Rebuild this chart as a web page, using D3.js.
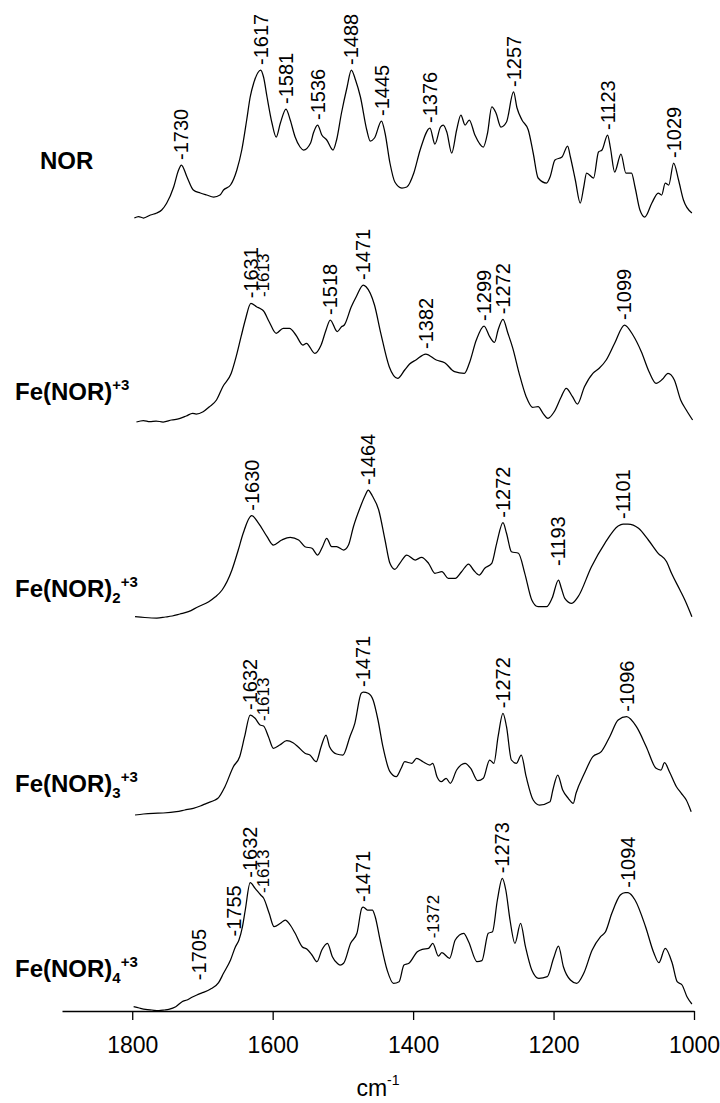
<!DOCTYPE html>
<html>
<head>
<meta charset="utf-8">
<script src="https://cdn.jsdelivr.net/npm/d3@7"></script>
<style>
  html, body { margin: 0; padding: 0; background: #fff; }
  svg { display: block; }
  text { font-family: "Liberation Sans", Arial, Helvetica, sans-serif; fill: #000; }
</style>
</head>
<body>
<svg id="chart" width="720" height="1103"></svg>
<script>
// Raman spectra of norfloxacin (NOR) and its Fe(III) complexes.
// Each series: [wavenumber (cm-1), relative intensity (a.u.)].

const norSpectrum = [
  [1797,2],[1791,3.5],[1784,2],[1774,5],[1765,7],[1758,10],[1751,16.7],[1741,33],[1734,50],[1730,55],
  [1722,43],[1713,30],[1703,27],[1694,25],[1684,23],[1675,25],[1670,30],[1660,35],[1651,50],[1644,70],
  [1637,100],[1632,123],[1627,137],[1617,150],[1613,143],[1608,123],[1601,97],[1595,83],[1589,97],[1581,111],
  [1575,100],[1568,83],[1561,73],[1556,70],[1546,77],[1542,87],[1536,95],[1530,85],[1523,80],[1514,70],
  [1509,80],[1502,107],[1494,133],[1488,150],[1482,140],[1475,123],[1466,90],[1461,79],[1455,82],[1445,99],
  [1440,87],[1433,57],[1426,38],[1416,32],[1409,33],[1399,47],[1390,70],[1376,92],[1369,76],[1361,93],
  [1357,95],[1352,88],[1345,67],[1338,90],[1332,105],[1326,95],[1320,100],[1312,85],[1300,73],[1294,87],
  [1288,113],[1282,107],[1275,93],[1267,98],[1257,128],[1252,112],[1245,100],[1236,90],[1229,67],[1222,42],
  [1210,37],[1205,43],[1198,60],[1188,63],[1180,74],[1176,63],[1169,40],[1162,17],[1157,33],[1153,47],
  [1143,42],[1136,68],[1131,70],[1123,85],[1119,72],[1113,48],[1104,66],[1097,47],[1089,47],[1084,33],
  [1077,10],[1070,3],[1060,17],[1051,27],[1046,25],[1041,37],[1036,35],[1029,57],[1022,40],[1015,20],[1003,7]
];

const fe1Spectrum = [
  [1794,0],[1784,1.5],[1775,0.3],[1766,1],[1756,0],[1744,2],[1733,3.3],[1723,6],[1714,8.7],[1709,8],
  [1699,10.3],[1690,15.3],[1680,22],[1671,35.3],[1659,48.7],[1652,65.3],[1645,85.3],[1639,102],[1631,118.7],[1623,115.3],
  [1616,112.7],[1613,111],[1605,100.3],[1595,88.7],[1585,93.7],[1576,93.7],[1567,87],[1557,77],[1552,78.7],[1540,68.7],
  [1531,77],[1524,92],[1518,102],[1508,90.3],[1502,95.3],[1498,97],[1488,115.3],[1481,125.3],[1471,137],[1467,135.3],
  [1455,117],[1446,88.7],[1434,55.3],[1422,43.7],[1412,52],[1405,58],[1396,62],[1382,68],[1367,62],[1355,59.3],
  [1341,50.3],[1327,48.7],[1320,58.7],[1310,82],[1299,96],[1291,85.3],[1284,79.7],[1279,92],[1272,102.7],[1265,88.7],
  [1258,73.7],[1249,48.7],[1239,25.3],[1230,14.7],[1222,15.3],[1215,8.7],[1208,3.7],[1199,10.3],[1189,25.3],[1182,33.7],
  [1173,25.3],[1166,18],[1156,35.3],[1144,48.7],[1135,53.7],[1125,62],[1113,78.7],[1099,97],[1087,87],[1075,70.3],
  [1064,50.3],[1054,38.7],[1045,42.7],[1037,48.7],[1028,42],[1019,22],[1011,12],[1002,2]
];

const fe2Spectrum = [
  [1796,1.3],[1782,0.5],[1765,0],[1753,1],[1743,2],[1732,4],[1720,6.3],[1706,11.3],[1691,16.3],[1682,21],
  [1672,28],[1658,48],[1649,68],[1642,84.7],[1630,102.3],[1620,94.7],[1608,81.3],[1599,73],[1587,78],[1575,80.7],
  [1563,78],[1554,71.3],[1544,69.7],[1536,63],[1529,71.3],[1523,79.7],[1516,71.3],[1509,71.3],[1499,68],[1492,73],
  [1485,91.3],[1475,111.3],[1468,123],[1464,128],[1458,122],[1449,108],[1440,78],[1433,54.7],[1426,48.7],[1419,54.7],
  [1409,63],[1397,58],[1388,60.7],[1378,54.7],[1369,44.7],[1359,46.3],[1350,39.7],[1340,39.7],[1331,46.3],[1321,54],
  [1314,48],[1306,43],[1298,49.7],[1288,54.7],[1281,74.7],[1272,95.3],[1267,84.7],[1260,66.3],[1250,64.7],[1241,44.7],
  [1231,18],[1222,11.3],[1210,11.3],[1202,20],[1193,38],[1189,30],[1184,19.7],[1174,14.7],[1165,21.3],[1146,51.3],
  [1127,74.7],[1108,92],[1101,94],[1094,94],[1079,89.7],[1065,78],[1051,64.7],[1039,56.3],[1032,44.7],[1020,28],
  [1013,18],[1003,1.3]
];

const fe3Spectrum = [
  [1796,0],[1784,1],[1770,1.7],[1756,2],[1737,3.3],[1725,5],[1713,6.7],[1703,9],[1694,11.7],[1682,15],
  [1678,16.7],[1668,28.3],[1656,48.3],[1647,58.3],[1640,78.3],[1632,100],[1625,96.7],[1618,90],[1613,89],[1606,78.3],
  [1599,66.7],[1590,70],[1580,74.3],[1571,72.3],[1564,68.3],[1554,61.7],[1547,60],[1538,53.3],[1531,68.3],[1524,80],
  [1519,68.3],[1509,61],[1500,60],[1490,78.3],[1483,91.7],[1474,121.7],[1471,123],[1464,121.7],[1457,115],[1450,95],
  [1443,68.3],[1433,43.3],[1424,38.3],[1417,46.7],[1412,53.3],[1402,51.7],[1395,56.7],[1386,53.3],[1376,50],[1372,51.7],
  [1366,38.3],[1360,33.3],[1353,36.7],[1347,31.7],[1338,45],[1326,51.7],[1318,46.7],[1308,34.3],[1300,36.7],[1291,55],
  [1285,51.7],[1279,78.3],[1272,101.7],[1267,88.3],[1260,55],[1253,51.7],[1246,60],[1239,38.3],[1229,15],[1220,10],
  [1205,13.3],[1201,25],[1194,40],[1187,25],[1179,16.7],[1172,11.7],[1168,21.7],[1156,41.7],[1144,58.3],[1132,63.3],
  [1120,78.3],[1108,95],[1096,98.3],[1082,88.3],[1068,68.3],[1054,46.7],[1047,45],[1042,52.3],[1035,43.3],[1025,28.3],
  [1018,21.7],[1011,15],[1004,3.3]
];

const fe4Spectrum = [
  [1798,4.3],[1790,3],[1781,1.7],[1772,1],[1762,0.3],[1754,1],[1748,1.7],[1738,4.3],[1729,9.3],[1722,11],
  [1715,13.7],[1708,16],[1700,18.3],[1689,21.7],[1677,28.3],[1670,37.7],[1660,51],[1653,64.3],[1648,71],[1643,84.3],
  [1639,101],[1632,128.3],[1625,122.7],[1617,116],[1613,113],[1605,97.7],[1598,84.3],[1589,87.7],[1582,91],[1575,86],
  [1568,77.7],[1558,64.3],[1551,61.7],[1544,56],[1537,49.3],[1530,61],[1522,67.7],[1515,54.3],[1508,47.7],[1504,46],
  [1499,47.7],[1489,67.7],[1480,77.7],[1473,103],[1471,104],[1465,101],[1458,101],[1454,94.3],[1447,71],[1437,41],
  [1428,27.7],[1420,29.3],[1413,46],[1406,47.7],[1394,59.3],[1387,61.7],[1378,62.7],[1372,67.7],[1364,55],[1359,58.3],
  [1348,52.7],[1340,71],[1328,77.7],[1321,69.3],[1309,49.3],[1302,50.3],[1293,77.7],[1287,79.3],[1280,111],[1273,132.7],
  [1268,121],[1262,91],[1255,67.7],[1247,87.7],[1240,64.3],[1231,41],[1221,32.7],[1209,34.3],[1200,52.7],[1193,65],
  [1186,44.3],[1176,31],[1167,27.7],[1157,37.7],[1145,61],[1133,74.3],[1126,79.3],[1117,97.7],[1105,116],[1098,118.5],
  [1094,118.3],[1084,111],[1069,84.3],[1057,57.7],[1050,48.3],[1041,62.7],[1031,47.7],[1024,29.3],[1017,26],[1010,14.3],
  [1003,7]
];

// Vertical offset of each trace in the stacked plot (a.u.)
const stackOffsets = [791, 589, 393, 196, 0];

// Sample labels: base name, ligand count subscript, charge superscript
const sampleNames = ["NOR", "Fe(NOR)", "Fe(NOR)", "Fe(NOR)", "Fe(NOR)"];
const ligandCounts = ["", "", "2", "3", "4"];
const sampleCharges = ["", "+3", "+3", "+3", "+3"];

// Assigned bands per trace (position in cm-1, printed text)
const norBands = [[1730,"1730"],[1617,"1617"],[1581,"1581"],[1536,"1536"],[1488,"1488"],[1445,"1445"],[1376,"1376"],[1257,"1257"],[1123,"1123"],[1029,"1029"]];
const fe1Bands = [[1631,"1631"],[1613,"1613"],[1518,"1518"],[1471,"1471"],[1382,"1382"],[1299,"1299"],[1272,"1272"],[1099,"1099"]];
const fe2Bands = [[1630,"1630"],[1464,"1464"],[1272,"1272"],[1193,"1193"],[1101,"1101"]];
const fe3Bands = [[1632,"1632"],[1613,"1613"],[1471,"1471"],[1272,"1272"],[1096,"1096"]];
const fe4Bands = [[1705,"1705"],[1655,"1755"],[1632,"1632"],[1613,"1613"],[1471,"1471"],[1372,"1372"],[1273,"1273"],[1094,"1094"]];

// Minor (shoulder) bands printed in a smaller type
const minorBands = [["fe1",1613],["fe3",1613],["fe4",1613],["fe4",1372]];
// Bands whose label sits further above the trace
const liftedBands = [["fe1",1613],["fe2",1193],["fe4",1705],["fe4",1655]];

const tickValues = [1800, 1600, 1400, 1200, 1000];

const series = [
  { key: "nor", data: norSpectrum, bands: norBands },
  { key: "fe1", data: fe1Spectrum, bands: fe1Bands },
  { key: "fe2", data: fe2Spectrum, bands: fe2Bands },
  { key: "fe3", data: fe3Spectrum, bands: fe3Bands },
  { key: "fe4", data: fe4Spectrum, bands: fe4Bands }
];

const svg = d3.select("#chart");
const x = d3.scaleLinear().domain([1900, 1000]).range([62, 694]);
const y = d3.scaleLinear().domain([0, 1011]).range([1011, 0]);

const line = d3.line()
  .x(d => x(d[0]))
  .y(d => y(d[1]))
  .curve(d3.curveMonotoneX);

function intensityAt(pts, w) {
  for (let i = 0; i < pts.length - 1; i++) {
    const a = pts[i], b = pts[i + 1];
    if ((a[0] >= w && b[0] <= w)) {
      const t = (a[0] - w) / (a[0] - b[0] || 1);
      return a[1] + t * (b[1] - a[1]);
    }
  }
  return pts[pts.length - 1][1];
}
const has = (list, key, w) => list.some(d => d[0] === key && d[1] === w);

series.forEach((s, i) => {
  const pts = s.data.slice()
    .sort((a, b) => b[0] - a[0])
    .map(d => [d[0], d[1] + stackOffsets[i]]);

  svg.append("path")
    .attr("d", line(pts))
    .attr("fill", "none")
    .attr("stroke", "#000")
    .attr("stroke-width", 1.25)
    .attr("stroke-linejoin", "round");

  const g = svg.append("g");
  s.bands.forEach(([w, label]) => {
    const small = has(minorBands, s.key, w);
    const gap = has(liftedBands, s.key, w) ? 14 : 5;
    const px = x(w);
    const py = y(intensityAt(pts, w)) - gap;
    g.append("text")
      .attr("transform", `translate(${px},${py}) rotate(-90)`)
      .attr("dy", "0.35em")
      .attr("font-size", small ? 17 : 20)
      .text("-" + label);
  });
});

// Sample names at the left
const nameX = [40, 15, 15, 15, 15];
const nameY = [169, 400, 597, 792, 977];
sampleNames.forEach((name, i) => {
  const t = svg.append("text")
    .attr("x", nameX[i])
    .attr("y", nameY[i])
    .attr("font-size", 24)
    .attr("font-weight", "bold")
    .text(name);
  if (ligandCounts[i]) {
    t.append("tspan").attr("font-size", 15).attr("dy", 6).text(ligandCounts[i]);
    t.append("tspan").attr("font-size", 15).attr("dy", -16).text(sampleCharges[i]);
  } else if (sampleCharges[i]) {
    t.append("tspan").attr("font-size", 15).attr("dy", -10).text(sampleCharges[i]);
  }
});

// Wavenumber axis
const axisG = svg.append("g")
  .attr("transform", `translate(0,${y(0)})`)
  .call(d3.axisBottom(x).tickValues(tickValues).tickSize(9).tickSizeOuter(0).tickPadding(17).tickFormat(d3.format("d")));
axisG.select(".domain").attr("stroke", "#000").attr("stroke-width", 1.5);
axisG.selectAll(".tick line").attr("stroke", "#000").attr("stroke-width", 1.3);
axisG.selectAll(".tick text")
  .attr("font-family", "\"Liberation Sans\", Arial, Helvetica, sans-serif")
  .attr("font-size", 23)
  .attr("fill", "#000");

const unit = svg.append("text")
  .attr("x", (x.range()[0] + x.range()[1]) / 2)
  .attr("y", 1096)
  .attr("text-anchor", "middle")
  .attr("font-size", 23)
  .text("cm");
unit.append("tspan").attr("font-size", 14).attr("dy", -11).text("-1");
</script>
</body>
</html>
